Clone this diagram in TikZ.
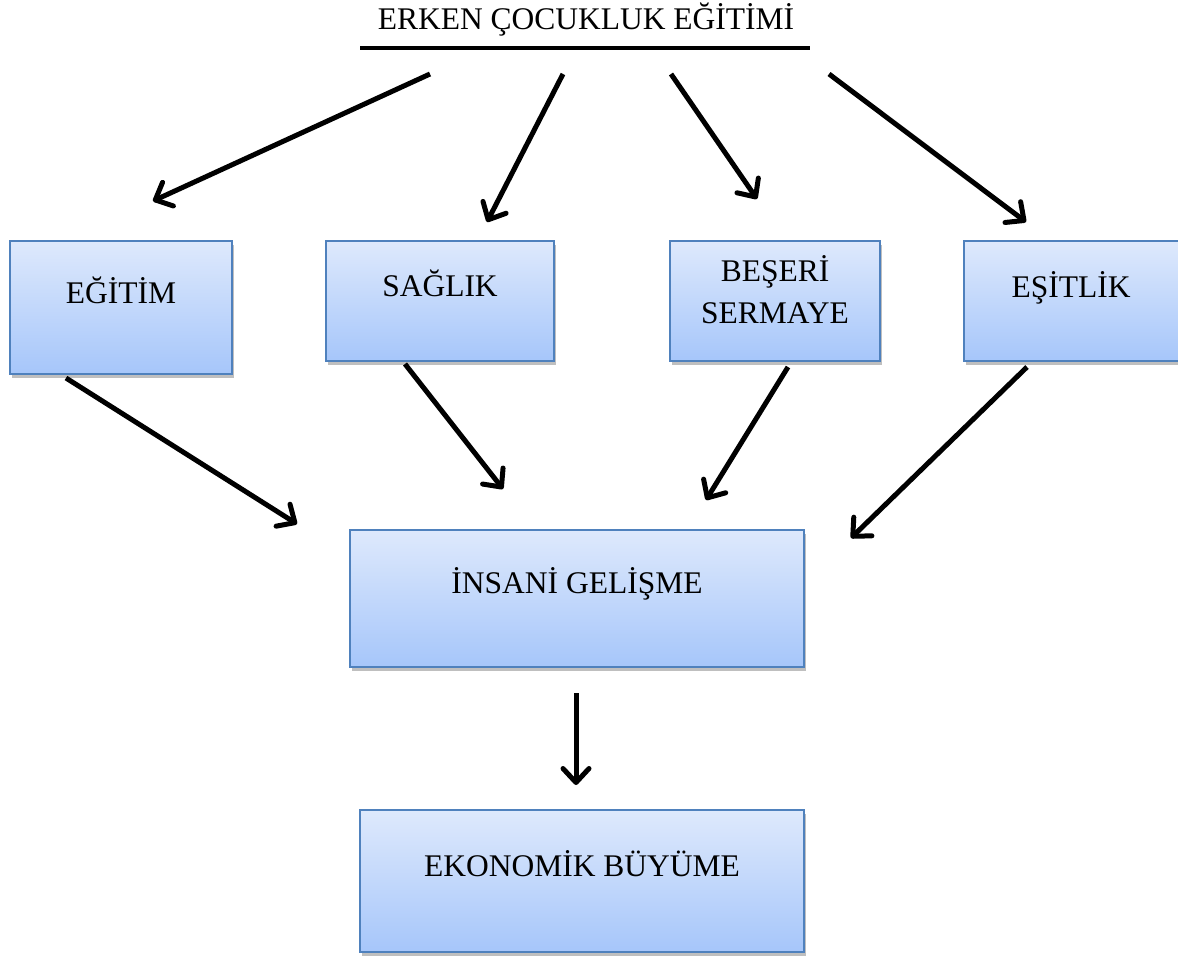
\documentclass[tikz,border=0pt]{standalone}
\usepackage{fontspec}
\setmainfont{Liberation Serif}
\usetikzlibrary{arrows.meta,shadows}
\definecolor{boxborder}{RGB}{79,129,189}
\definecolor{boxtop}{RGB}{222,233,252}
\definecolor{boxbottom}{RGB}{166,198,250}
\tikzset{
  box/.style={draw=boxborder, line width=1.4pt, top color=boxtop, bottom color=boxbottom,
    drop shadow={shadow xshift=2pt, shadow yshift=-4pt, opacity=0.25, fill=black}},
  lbl/.style={anchor=base, inner sep=0pt, font=\fontsize{31.5}{42}\selectfont, text=black},
  arr/.style={line width=5pt, -{Straight Barb[length=14pt, width=26pt, line width=5pt, round]}},
}
\begin{document}
\begin{tikzpicture}[x=1pt, y=-1pt]
\useasboundingbox (0,0) rectangle (1178,956);
% title
\node[lbl] (title) at (586,29) {ERKEN ÇOCUKLUK EĞİTİMİ};
\coordinate (ls) at (360,48);
\coordinate (le) at (810,48);
\draw[line width=4.5pt] (ls) -- (le);

% boxes
\path[box] (10,241) rectangle (232,374) node[pos=0.5, inner sep=0pt] (bEgitim) {};
\path[box] (326,241) rectangle (554,361) node[pos=0.5, inner sep=0pt] (bSaglik) {};
\path[box] (670,241) rectangle (880,361) node[pos=0.5, inner sep=0pt] (bBeseri) {};
\path[box] (964,241) rectangle (1192,361) node[pos=0.5, inner sep=0pt] (bEsitlik) {};
\path[box] (350,530) rectangle (804,667) node[pos=0.5, inner sep=0pt] (bInsani) {};
\path[box] (360,810) rectangle (804,952) node[pos=0.5, inner sep=0pt] (bEkonomi) {};

% labels
\node[lbl] (tEgitim) at (121,303) {EĞİTİM};
\node[lbl] (tSaglik) at (440,296) {SAĞLIK};
\node[lbl] (tBeseri1) at (775,281) {BEŞERİ};
\node[lbl] (tBeseri2) at (775,323) {SERMAYE};
\node[lbl] (tEsitlik) at (1071,297) {EŞİTLİK};
\node[lbl] (tInsani) at (577,593) {İNSANİ GELİŞME};
\node[lbl] (tEkonomi) at (582,876) {EKONOMİK BÜYÜME};

% arrow end points
\coordinate (a1s) at (430,74);  \coordinate (a1e) at (153,201);
\coordinate (a2s) at (563,74);  \coordinate (a2e) at (487,222);
\coordinate (a3s) at (671,74);  \coordinate (a3e) at (757,199);
\coordinate (a4s) at (829,74);  \coordinate (a4e) at (1026,222);
\coordinate (a5s) at (66,378);  \coordinate (a5e) at (297,524);
\coordinate (a6s) at (405,364); \coordinate (a6e) at (503,489);
\coordinate (a7s) at (788,367); \coordinate (a7e) at (706,500);
\coordinate (a8s) at (1027,367);\coordinate (a8e) at (851,538);
\coordinate (a9s) at (576,693); \coordinate (a9e) at (576,785);

\foreach \i in {1,...,9} {\draw[arr] (a\i s) -- (a\i e);}
\end{tikzpicture}
\end{document}
